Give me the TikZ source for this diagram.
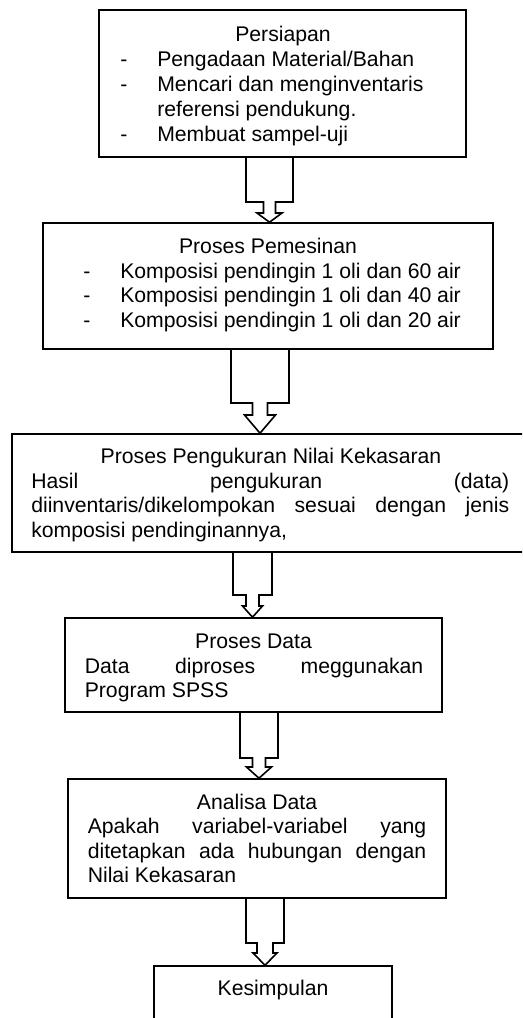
\documentclass[tikz,border=0pt]{standalone}
\usepackage{fontspec}
\setmainfont{Liberation Sans}
\tikzset{
  box/.style={draw, line width=1.2pt, rectangle, inner sep=0pt},
  txt/.style={inner sep=0pt, font=\fontsize{15.9pt}{18.45pt}\selectfont},
  blockarrow/.style={draw, line width=1.2pt, line join=miter},
}
\newcommand\blkarrow[8]{%
  \pgfmathsetmacro\arrA{#3-#4}\pgfmathsetmacro\arrB{#3-#5}\pgfmathsetmacro\arrC{#3-#6}%
  \pgfmathsetmacro\arrD{#3+#6}\pgfmathsetmacro\arrE{#3+#5}\pgfmathsetmacro\arrF{#3+#4}%
  \draw[blockarrow] (\arrA,0 |- #1.south) -- (\arrA,#7) -- (\arrB,#7) -- (\arrB,#8) -- (\arrC,#8)
    -- (#3,0 |- #2.north) -- (\arrD,#8) -- (\arrE,#8) -- (\arrE,#7) -- (\arrF,#7) -- (\arrF,0 |- #1.south);
}
\begin{document}
\begin{tikzpicture}[x=0.75pt,y=-0.75pt]
\useasboundingbox (0,0) rectangle (522,1018);
\clip (0,0) rectangle (522,1018);
% boxes
\node[box, minimum width=275.25pt, minimum height=110.25pt] (b1) at (282.5,83.5) {};
\node[box, minimum width=337.5pt, minimum height=94.5pt] (b2) at (268,286) {};
\node[box, minimum width=388.5pt, minimum height=88.5pt] (b3) at (271,493) {};
\node[box, minimum width=282.75pt, minimum height=70.5pt] (b4) at (253.5,665) {};
\node[box, minimum width=283.5pt, minimum height=89.25pt] (b5) at (257,838.5) {};
\node[box, minimum width=178.5pt, minimum height=55.5pt] (b6) at (273,1003) {};
% box 1 text
\node[txt, anchor=base] (t1a) at (283,41) {Persiapan};
\node[txt, anchor=base west] (d1a) at (120,66) {-};
\node[txt, anchor=base west] (t1b) at (157,66) {Pengadaan Material/Bahan};
\node[txt, anchor=base west] (d1b) at (120,91) {-};
\node[txt, anchor=base west] (t1c) at (157,91) {Mencari dan menginventaris};
\node[txt, anchor=base west] (t1d) at (157,116) {referensi pendukung.};
\node[txt, anchor=base west] (d1d) at (120,141) {-};
\node[txt, anchor=base west] (t1e) at (157,141) {Membuat sampel-uji};
% box 2 text
\node[txt, anchor=base] (t2a) at (268,253.5) {Proses Pemesinan};
\node[txt, anchor=base west] (d2a) at (83,278) {-};
\node[txt, anchor=base west] (t2b) at (120,278) {Komposisi pendingin 1 oli dan 60 air};
\node[txt, anchor=base west] (d2b) at (83,302.5) {-};
\node[txt, anchor=base west] (t2c) at (120,302.5) {Komposisi pendingin 1 oli dan 40 air};
\node[txt, anchor=base west] (d2c) at (83,327) {-};
\node[txt, anchor=base west] (t2d) at (120,327) {Komposisi pendingin 1 oli dan 20 air};
% box 3 text
\node[txt, anchor=base] (t3a) at (271,463) {Proses Pengukuran Nilai Kekasaran};
\node[txt, anchor=base west] (t3b) at (31,488) {\hbox to 358.5pt{Hasil\hfill pengukuran\hfill (data)}};
\node[txt, anchor=base west] (t3c) at (31,512.5) {\hbox to 358.5pt{diinventaris/dikelompokan\hfill sesuai\hfill dengan\hfill jenis}};
\node[txt, anchor=base west] (t3d) at (31,537) {komposisi pendinginannya,};
% box 4 text
\node[txt, anchor=base] (t4a) at (253.5,648) {Proses Data};
\node[txt, anchor=base west] (t4b) at (84.5,673) {\hbox to 253.9pt{Data\hfill diproses\hfill meggunakan}};
\node[txt, anchor=base west] (t4c) at (84.5,697) {Program SPSS};
% box 5 text
\node[txt, anchor=base] (t5a) at (257,809) {Analisa Data};
\node[txt, anchor=base west] (t5b) at (87.5,833.5) {\hbox to 253.9pt{Apakah\hfill variabel-variabel\hfill yang}};
\node[txt, anchor=base west] (t5c) at (87.5,858) {\hbox to 253.9pt{ditetapkan\hfill ada\hfill hubungan\hfill dengan}};
\node[txt, anchor=base west] (t5d) at (87.5,882.5) {Nilai Kekasaran};
% box 6 text
\node[txt, anchor=base] (t6a) at (273,995) {Kesimpulan};
% block arrows
\blkarrow{b1}{b2}{269.5}{23.5}{6}{12.5}{202}{213}
\blkarrow{b2}{b3}{260}{29}{7.5}{15.5}{403}{415}
\blkarrow{b3}{b4}{252.5}{19.5}{6.5}{10}{595}{606}
\blkarrow{b4}{b5}{259}{19}{6.5}{12.5}{758}{767}
\blkarrow{b5}{b6}{265}{19}{8}{12}{943}{953}
\end{tikzpicture}
\end{document}
